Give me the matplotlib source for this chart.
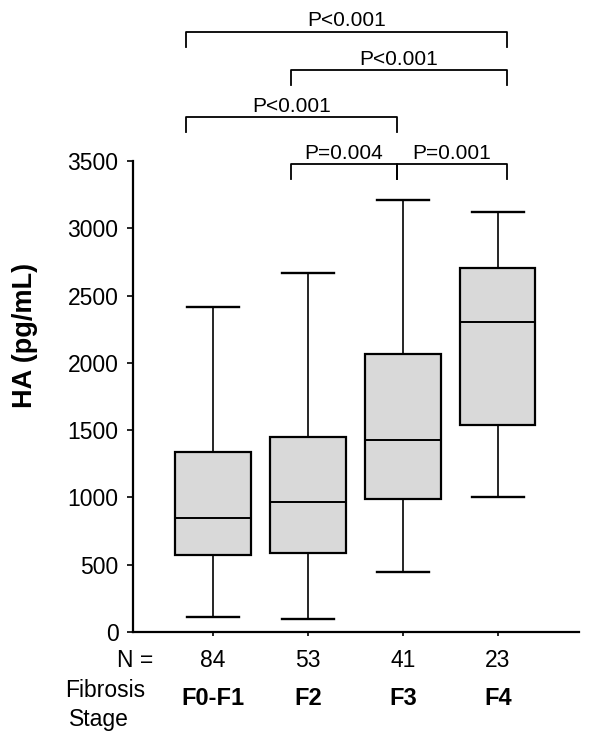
import matplotlib
matplotlib.use("Agg")
from matplotlib import pyplot as plt

plt.rcParams.update({
    "font.family": ["Liberation Sans", "DejaVu Sans"],
    "font.size": 16,
})

# data
stages = ["F0-F1", "F2", "F3", "F4"]
n_patients = [84, 53, 41, 23]
whis_low = [111, 97, 446, 1003]
q1 = [572, 587, 988, 1540]
median = [850, 966, 1430, 2303]
q3 = [1337, 1449, 2065, 2704]
whis_high = [2414, 2667, 3209, 3122]

# comparison brackets: (left end, right end, label, level)
bracket_ends = [0.72, 1.82, 2.94, 4.09]
comparisons = [
    (0, 3, "P<0.001", 4460),
    (1, 3, "P<0.001", 4176),
    (0, 2, "P<0.001", 3827),
    (1, 2, "P=0.004", 3478),
    (2, 3, "P=0.001", 3478),
]

positions = list(range(1, len(stages) + 1))
stats = []
for i in range(len(stages)):
    stats.append({
        "med": median[i], "q1": q1[i], "q3": q3[i],
        "whislo": whis_low[i], "whishi": whis_high[i], "fliers": [],
    })

fig = plt.figure(figsize=(6, 7.37), dpi=100)
ax = fig.add_axes([0.2217, 0.1425, 0.7433, 0.6391])

ax.bxp(stats, positions=positions, widths=0.79, capwidths=0.54,
       patch_artist=True, showfliers=False,
       boxprops=dict(facecolor="#d9d9d9", edgecolor="black", linewidth=1.6),
       whiskerprops=dict(color="black", linewidth=1.2),
       capprops=dict(color="black", linewidth=1.7),
       medianprops=dict(color="black", linewidth=1.4))

ax.set_xlim(0.158, 4.853)
ax.set_ylim(0, 3500)
ax.set_yticks(range(0, 3501, 500))
ax.set_xticks(positions)
ax.set_xticklabels([])
ax.spines["top"].set_visible(False)
ax.spines["right"].set_visible(False)
ax.spines["left"].set_linewidth(1.6)
ax.spines["bottom"].set_linewidth(1.6)
ax.tick_params(axis="y", length=4.5, width=1.2, pad=6, labelsize=16.5)
ax.tick_params(axis="x", length=3, width=1.2)

# brackets
drop = 112
for a, b, label, level in comparisons:
    xa, xb = bracket_ends[a], bracket_ends[b]
    ax.plot([xa, xa, xb, xb], [level - drop, level, level, level - drop],
            color="black", linewidth=1.3, clip_on=False)
    ax.text((xa + xb) / 2, level + 40, label, ha="center", va="baseline",
            fontsize=15, clip_on=False)

# N row and stage names
tx = ax.get_xaxis_transform()
for p, n, s in zip(positions, n_patients, stages):
    ax.text(p, -0.0743, str(n), transform=tx, ha="center", va="baseline", fontsize=16.5)
    ax.text(p, -0.155, s, transform=tx, ha="center", va="baseline",
            fontsize=17, fontweight="bold")
ax.text(0.0448, -0.0743, "N =", transform=ax.transAxes, ha="right", va="baseline", fontsize=16.5)
ax.text(-0.152, -0.138, "Fibrosis", transform=ax.transAxes, ha="left", va="baseline", fontsize=16.5)
ax.text(-0.1435, -0.2, "Stage", transform=ax.transAxes, ha="left", va="baseline", fontsize=16.5)

fig.text(0.042, 0.5455, "HA (pg/mL)", rotation=90, ha="center", va="center",
         fontsize=19.5, fontweight="bold")

fig.savefig("out.png", dpi=100)
